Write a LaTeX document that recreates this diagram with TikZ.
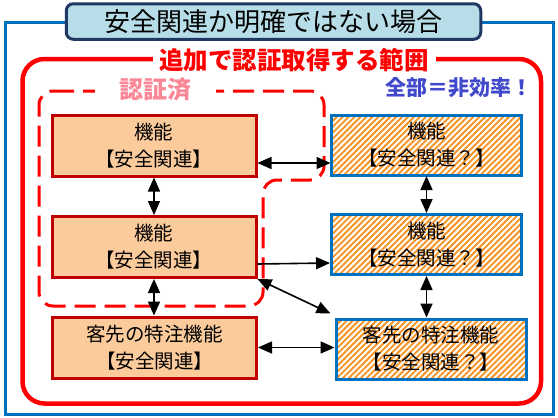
\documentclass[tikz,border=0pt]{standalone}
\usepackage{fontspec}
\setmainfont{Noto Sans CJK JP}
\usepackage{xcolor}
\usepackage{tikz}
\usetikzlibrary{positioning}
\usetikzlibrary{arrows.meta,patterns.meta}
\definecolor{peach}{RGB}{251,203,156}
\definecolor{darkred}{RGB}{192,0,0}
\definecolor{boxblue}{RGB}{0,112,192}
\definecolor{hatchorange}{RGB}{246,150,40}
\definecolor{titlefill}{RGB}{183,222,232}
\definecolor{navy}{RGB}{32,56,100}
\definecolor{pinklabel}{RGB}{250,135,150}
\definecolor{warnblue}{RGB}{64,72,204}
\tikzstyle{outerframe} = [line width=3pt, boxblue]
\tikzstyle{titlebox} = [draw=navy, line width=3pt, fill=titlefill, rounded corners=7pt, minimum width=414.5pt, minimum height=35.5pt, inner sep=0pt, font=\fontsize{26}{26}\selectfont]
\tikzstyle{scopeframe} = [line width=4.5pt, red, rounded corners=22pt]
\tikzstyle{scopelabel} = [fill=white, text=red, minimum width=283pt, minimum height=24pt, inner sep=0pt, font=\fontsize{24.5}{24.5}\selectfont\bfseries]
\tikzstyle{doneframe} = [line width=3pt, red, dash pattern=on 21pt off 9pt, rounded corners=14pt]
\tikzstyle{donelabel} = [fill=white, text=pinklabel, minimum width=121pt, minimum height=20pt, inner sep=0pt, font=\fontsize{24}{24}\selectfont\bfseries]
\tikzstyle{warnlabel} = [text=warnblue, inner sep=0pt, font=\fontsize{21}{21}\selectfont\bfseries]
\tikzstyle{leftbox} = [draw=darkred, line width=3pt, fill=peach, minimum width=204pt, minimum height=61pt, inner sep=0pt, align=center, font=\fontsize{19.5}{27}\selectfont]
\tikzstyle{rightbox} = [draw=boxblue, line width=3pt, pattern={Lines[angle=45, distance=4.2pt, line width=2pt]}, pattern color=hatchorange, minimum width=190pt, minimum height=60pt, inner sep=0pt, align=center, font=\fontsize{19.5}{27}\selectfont]
\tikzstyle{link} = [draw, line width=1.6pt, >={Triangle[length=14pt, width=12pt]}, <->]
\tikzstyle{oneway} = [draw, line width=1.6pt, >={Triangle[length=14pt, width=12pt]}, ->]

\begin{document}
\begin{tikzpicture}[x=1pt, y=-1pt]
\useasboundingbox (0, 0) rectangle (558, 418);

%% outer frame
\draw[outerframe] (5.5, 22) rectangle (553.5, 414);
\node[titlebox] (title) at (273.5, 21.5) {安全関連か明確ではない場合};

%% scope of the extra certification
\draw[scopeframe] (22.5, 59) rectangle (541, 403.5);
\node[scopelabel] (scope) at (294, 60) {追加で認証取得する範囲};
\node[warnlabel] (warn) at (459, 88) {全部＝非効率！};

%% already certified
\draw[doneframe] (39, 91) -- (324, 91) -- (324, 180) -- (263, 180) -- (263, 306) -- (39, 306) -- cycle;
\node[donelabel] (done) at (155, 90) {認証済};

%% functions
\node[leftbox] (f1) at (154, 145.5) {機能\\【安全関連】};
\node[leftbox] (f2) at (154, 247) {機能\\【安全関連】};
\node[leftbox] (c1) at (154.5, 347.5) {客先の特注機能\\【安全関連】};
\node[rightbox] (g1) at (426.5, 145) {機能\\【安全関連？】};
\node[rightbox] (g2) at (426.5, 244.5) {機能\\【安全関連？】};
\node[rightbox] (c2) at (431, 349) {客先の特注機能\\【安全関連？】};

%% links
\draw[link] (f1) -- (f2);
\draw[link] (f2.south) -- (f2.south |- c1.north);
\draw[link] (g1) -- (g2);
\draw[link] (g2.south) -- (g2.south |- c2.north);
\draw[link] ([yshift=-17.5pt]f1.east) -- ([yshift=-17.5pt]f1.east -| g1.west);
\draw[oneway] ([yshift=-17pt]f2.east) -- ([yshift=-18.5pt]g2.west);
\draw[link] (f2.south east) -- ([shift={(-4pt,4pt)}]c2.north west);
\draw[link] (c1.east) -- (c1.east -| c2.west);
\end{tikzpicture}
\end{document}
